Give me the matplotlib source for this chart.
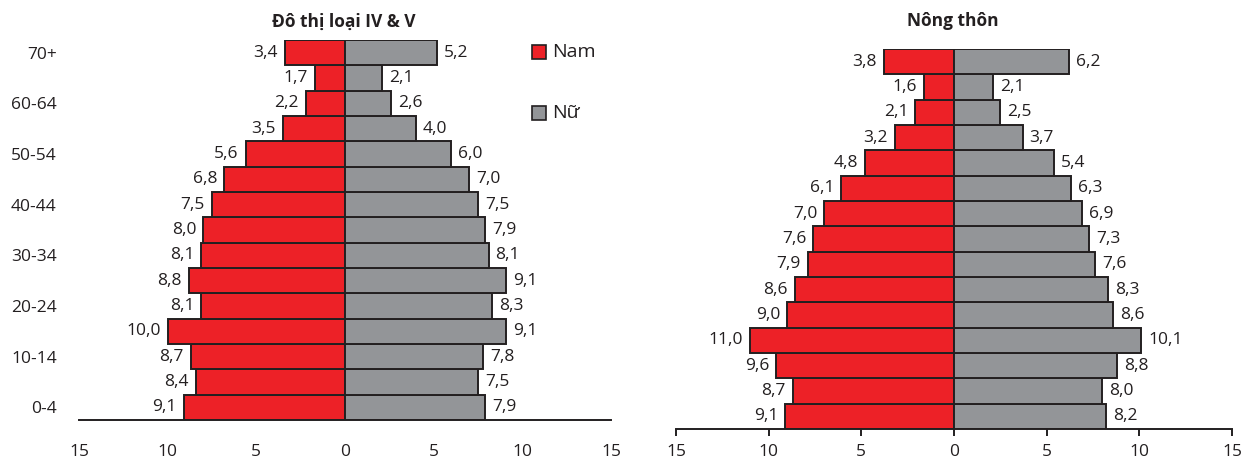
import matplotlib
matplotlib.use("Agg")
import matplotlib.pyplot as plt
from matplotlib.patches import Rectangle
import numpy as np

plt.rcParams['font.family'] = ['Open Sans', 'DejaVu Sans']

age_groups = ["0-4", "5-9", "10-14", "15-19", "20-24", "25-29", "30-34", "35-39",
              "40-44", "45-49", "50-54", "55-59", "60-64", "65-69", "70+"]

urban_male = [9.1, 8.4, 8.7, 10.0, 8.1, 8.8, 8.1, 8.0, 7.5, 6.8, 5.6, 3.5, 2.2, 1.7, 3.4]
urban_female = [7.9, 7.5, 7.8, 9.1, 8.3, 9.1, 8.1, 7.9, 7.5, 7.0, 6.0, 4.0, 2.6, 2.1, 5.2]

rural_male = [9.1, 8.7, 9.6, 11.0, 9.0, 8.6, 7.9, 7.6, 7.0, 6.1, 4.8, 3.2, 2.1, 1.6, 3.8]
rural_female = [8.2, 8.0, 8.8, 10.1, 8.6, 8.3, 7.6, 7.3, 6.9, 6.3, 5.4, 3.7, 2.5, 2.1, 6.2]

titles = ["Đô thị loại IV & V", "Nông thôn"]
legend_labels = ["Nam", "Nữ"]
x_ticks = [-15, -10, -5, 0, 5, 10, 15]

RED = "#ED2127"
GRAY = "#939598"
EDGE = "#231F20"
TXT = "#231F20"
FS = 12.5

W, H = 1245, 461
fig = plt.figure(figsize=(W / 100, H / 100), dpi=100)


def fx(px):
    return px / W


def fy(py):
    return 1 - py / H


axL = fig.add_axes([fx(79), fy(420), fx(611 - 79), 380 / H])
axR = fig.add_axes([fx(676), fy(429), fx(1232 - 676), 380 / H])


def fmt(v):
    return f"{v:.1f}".replace(".", ",")


def draw(ax, male, female, show_ticks):
    y = np.arange(len(age_groups))
    ax.barh(y, [-m for m in male], height=1.0, color=RED, edgecolor=EDGE, linewidth=1.4)
    ax.barh(y, female, height=1.0, color=GRAY, edgecolor=EDGE, linewidth=1.4)
    for yi, m, f in zip(y, male, female):
        ax.annotate(fmt(m), (-m, yi), xytext=(-5, 0), textcoords="offset points",
                    ha="right", va="center", fontsize=FS, color=TXT)
        ax.annotate(fmt(f), (f, yi), xytext=(5, 0), textcoords="offset points",
                    ha="left", va="center", fontsize=FS, color=TXT)
    ax.set_xlim(-15, 15)
    ax.set_ylim(-0.5, len(age_groups) - 0.5)
    ax.set_xticks(x_ticks)
    ax.set_xticklabels([str(abs(t)) for t in x_ticks], fontsize=FS, color=TXT)
    for s in ["top", "left", "right"]:
        ax.spines[s].set_visible(False)
    ax.spines["bottom"].set_linewidth(1.4)
    ax.spines["bottom"].set_color(EDGE)
    if show_ticks:
        ax.tick_params(axis="x", length=5, width=1.4, color=EDGE, pad=5.5)
    else:
        ax.tick_params(axis="x", length=0, pad=17.5)


draw(axL, urban_male, urban_female, False)
draw(axR, rural_male, rural_female, True)

fig.text(fx(344), fy(26.5), titles[0], fontsize=12.5, fontweight="bold", color=TXT,
         ha="center", va="baseline")
fig.text(fx(953), fy(26.5), titles[1], fontsize=12.5, fontweight="bold", color=TXT,
         ha="center", va="baseline")

axL.set_yticks(np.arange(0, len(age_groups), 2))
axL.set_yticklabels(age_groups[::2], fontsize=FS, color=TXT)
axL.tick_params(axis="y", length=0, pad=16)
axR.set_yticks([])

# legend
for (py, col, lab) in [(52, RED, legend_labels[0]), (113, GRAY, legend_labels[1])]:
    fig.patches.append(Rectangle((fx(532), fy(py + 7)), fx(14), 14 / H, transform=fig.transFigure,
                                 facecolor=col, edgecolor=EDGE, linewidth=1.2))
    fig.text(fx(552), fy(py), lab, fontsize=14, color=TXT, ha="left", va="center")

fig.savefig("out.png", dpi=100)
